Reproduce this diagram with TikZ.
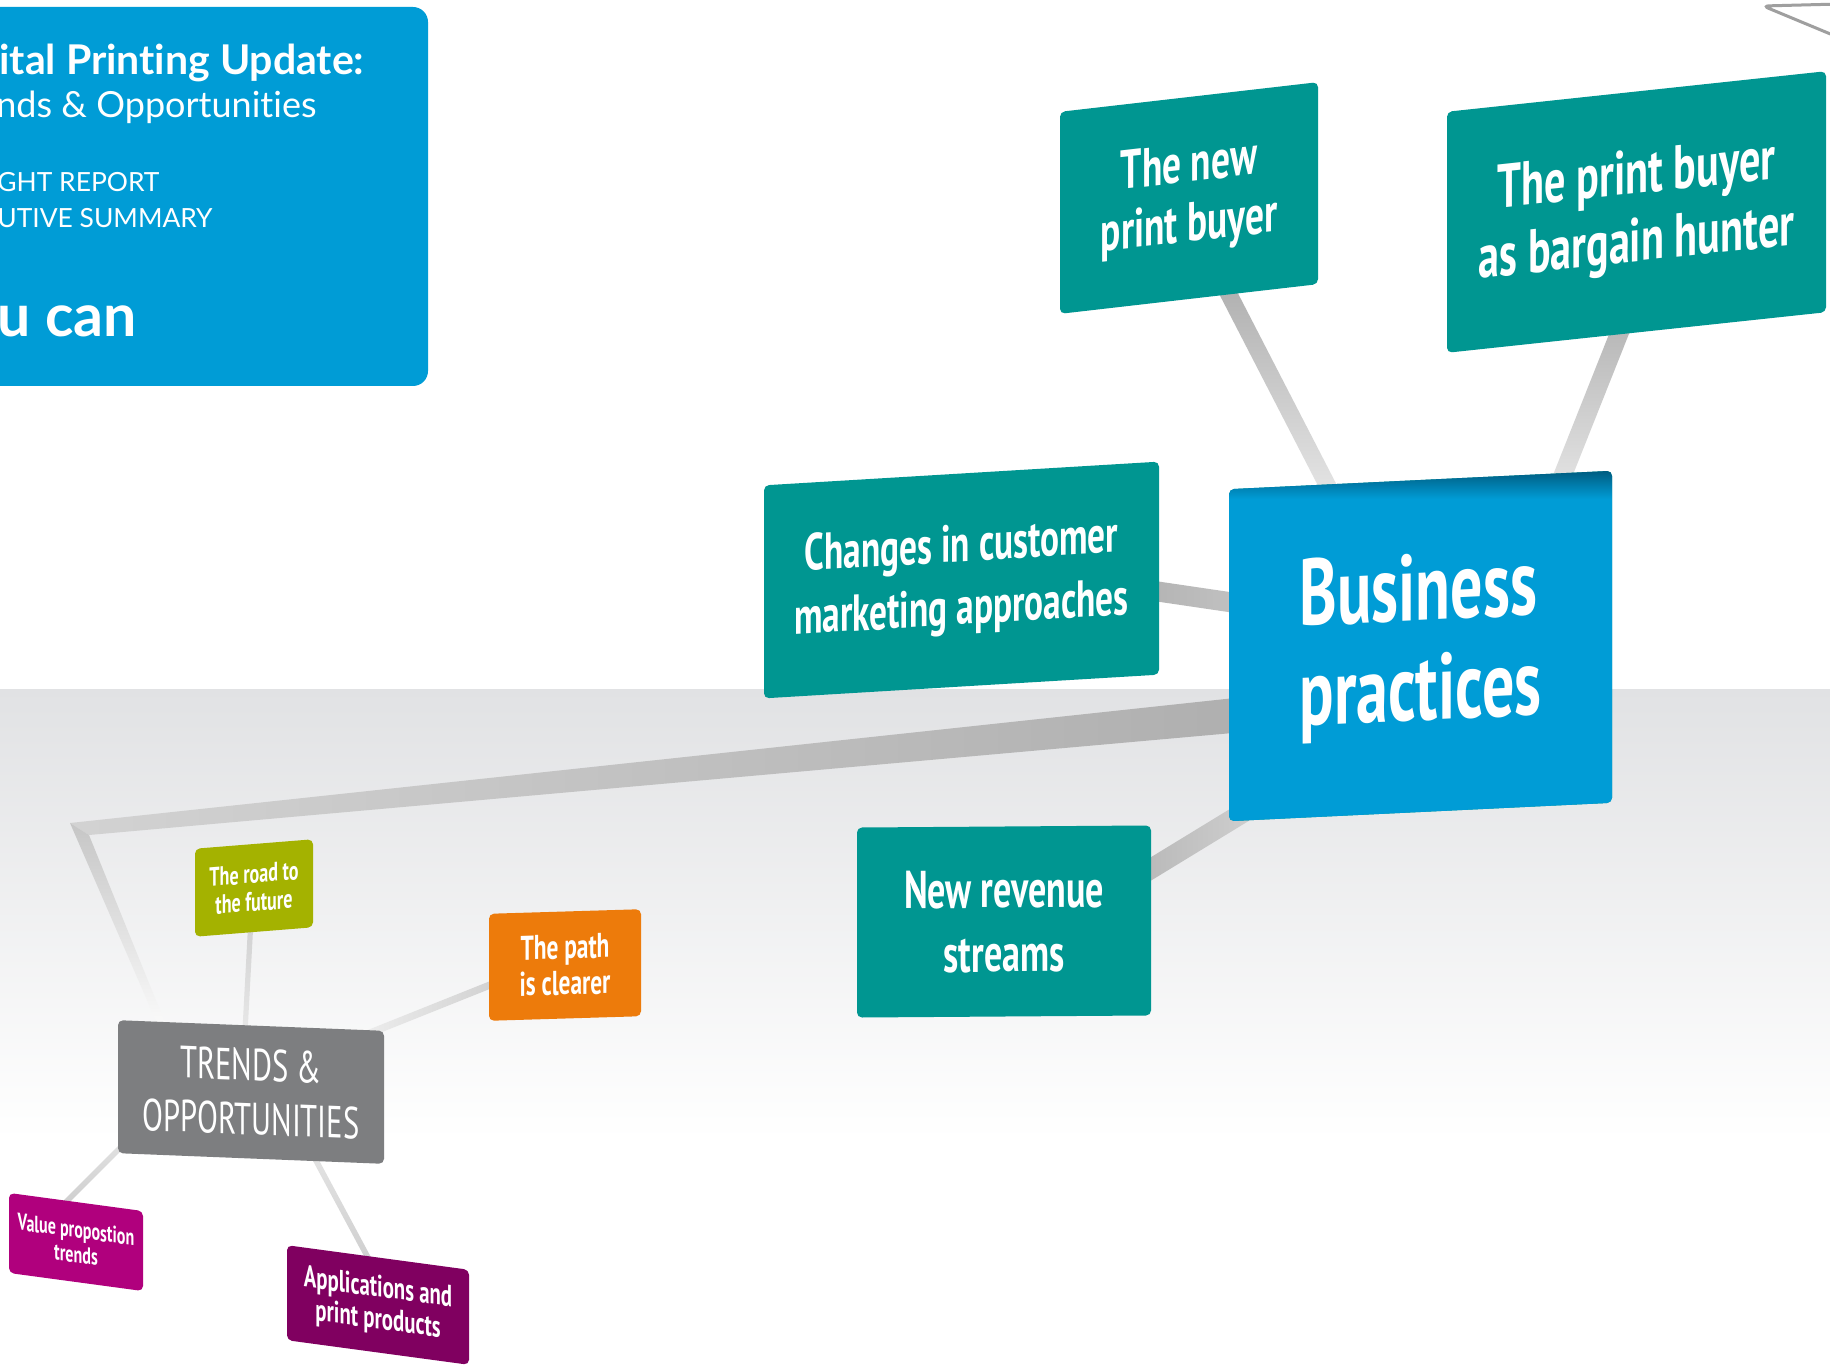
\documentclass[tikz,border=0pt]{standalone}
\usepackage{fontspec}
\newfontfamily\boxfont[FakeStretch=0.68]{PT Sans}
\newfontfamily\headfont[Ligatures=NoCommon]{Lato}
\usetikzlibrary{calc}

\definecolor{cardteal}{RGB}{0,150,145}
\definecolor{bizblue}{RGB}{0,156,214}
\definecolor{bizdark}{RGB}{0,92,128}
\definecolor{olive}{RGB}{164,178,0}
\definecolor{pathorange}{RGB}{237,123,11}
\definecolor{valuemagenta}{RGB}{176,0,125}
\definecolor{appsplum}{RGB}{128,0,96}
\definecolor{trendgray}{RGB}{125,126,128}
\definecolor{floorgray}{RGB}{225,226,228}

\pgfdeclareverticalshading{bizshade}{100bp}{color(0bp)=(bizblue); color(71bp)=(bizblue); color(75bp)=(bizdark); color(100bp)=(bizdark)}

\pgfdeclarelayer{back}
\pgfdeclarelayer{links}
\pgfsetlayers{back,links,main}

\newcommand{\cardfont}[2]{\boxfont\bfseries\fontsize{#1}{#2}\selectfont}
% shaded bar between two points, half widths #4 and #5
\newcommand{\linkbar}[5][]{%
  \shade[#1] ($(#2)!#4!90:(#3)$) -- ($(#2)!#4!-90:(#3)$) -- ($(#3)!#5!90:(#2)$) -- ($(#3)!#5!-90:(#2)$) -- cycle;}

\begin{document}
\begin{tikzpicture}[x=0.5pt, y=-0.5pt,
    card/.style={fill=cardteal, rounded corners=2.5pt, inner sep=0pt, text=white, align=center},
    head/.style={anchor=base west, text=white, inner sep=0pt},
    ]
    \useasboundingbox (0,0) rectangle (1830,1369);
    \clip (0,0) rectangle (1830,1369);

    % floor
    \begin{pgfonlayer}{back}
        \fill[white] (0,0) rectangle (1830,1369);
        \shade[top color=floorgray, bottom color=white] (0,689) rectangle (1830,1140);
    \end{pgfonlayer}

    % title panel
    \fill[bizblue, rounded corners=7.5pt] (-40,7) rectangle (428,386);
    \node[head, font=\headfont\bfseries\fontsize{20.5}{24}\selectfont] (title) at (-1,75) {ital Printing Update:};
    \node[head, font=\headfont\fontsize{18}{22}\selectfont] (subtitle) at (-4,118) {nds \& Opportunities};
    \node[head, font=\headfont\fontsize{13.2}{16}\selectfont] (report) at (-3,192) {GHT REPORT};
    \node[head, font=\headfont\fontsize{13.2}{16}\selectfont] (summary) at (-3,228) {UTIVE SUMMARY};
    \node[head, font=\headfont\bfseries\fontsize{29.5}{34}\selectfont] (youcan) at (-3,337) {u can};

    % corner of next panel
    \draw[gray!75, line width=1.5pt, rounded corners=3pt] (1840,4) -- (1763,6) -- (1840,38);

    % business branch
    \node[card, shade, shading=bizshade, minimum width=191.5pt, minimum height=166pt, yslant=0.048,
        align=left, font=\cardfont{47}{50}] (business) at (1420.5,646) {Business\\practices};
    \node[card, minimum width=129pt, minimum height=101pt, yslant=0.115,
        font=\cardfont{27.5}{30}] (newbuyer) at (1189,198) {The new\\print buyer};
    \node[card, minimum width=189.5pt, minimum height=120.5pt, yslant=0.107,
        font=\cardfont{31}{34}] (bargain) at (1636.5,212) {The print buyer\\as bargain hunter};
    \node[card, minimum width=197.5pt, minimum height=106.5pt, yslant=0.06,
        font=\cardfont{26}{31.5}] (changes) at (961.5,580) {Changes in customer\\marketing approaches};
    \node[card, minimum width=147pt, minimum height=95pt, yslant=0.007,
        font=\cardfont{26.5}{32}] (revenue) at (1004,921.5) {New revenue\\streams};

    % trends branch
    \node[card, fill=trendgray, minimum width=133pt, minimum height=66.5pt, yslant=-0.04,
        font=\boxfont\fontsize{22.5}{27}\selectfont] (trends) at (251,1092) {TRENDS \&\\OPPORTUNITIES};
    \node[card, fill=olive, minimum width=59pt, minimum height=44pt, yslant=0.08,
        font=\cardfont{13.3}{14}] (road) at (254,888) {The road to\\the future};
    \node[card, fill=pathorange, minimum width=76pt, minimum height=53.5pt, yslant=0.03,
        font=\cardfont{17.2}{18}] (path) at (565,965) {The path\\is clearer};
    \node[card, fill=valuemagenta, minimum width=67pt, minimum height=40pt, yslant=-0.135,
        font=\cardfont{11.8}{12.5}] (value) at (76,1242) {Value propostion\\trends};
    \node[card, fill=appsplum, minimum width=91pt, minimum height=47.5pt, yslant=-0.135,
        font=\cardfont{15.3}{16}] (apps) at (378,1305) {Applications and\\print products};

    % connector bars
    \coordinate (bend) at (70,823);
    \coordinate (bendin) at (89,835);
    \begin{pgfonlayer}{links}
        \shade[left color=gray!35, right color=gray!64] (bend) -- ($(business)+(-120.5,45)$)
            -- ($(business)+(-120.5,81)$) -- (bendin) -- cycle;
        \shade[top color=gray!45, bottom color=gray!3] (bend) -- (bendin)
            -- ($(trends)+(-83,-62)$) -- ($(trends)+(-91,-62)$) -- cycle;
        \linkbar[top color=gray!70, bottom color=gray!12]{$(newbuyer)+(16,50)$}{$(business)+(-67.5,-111)$}{4.25pt}{4.25pt}
        \linkbar[top color=gray!65, bottom color=gray!15]{$(bargain)+(0,78)$}{$(business)+(126.5,-131)$}{4.6pt}{4.6pt}
        \linkbar[left color=gray!65, right color=gray!42]{$(changes)+(138.5,3)$}{$(business)+(-130.5,-35)$}{5pt}{5pt}
        \linkbar[left color=gray!62, right color=gray!32]{$(revenue)+(96,-21.5)$}{$(business)+(-130.5,138)$}{5pt}{5pt}
        \linkbar[top color=gray!40, bottom color=gray!15]{$(road)+(-2,12)$}{$(trends)+(-7,-42)$}{1.3pt}{1.3pt}
        \linkbar[right color=gray!40, left color=gray!12]{$(path)+(-45,8)$}{$(trends)+(99,-51)$}{1.8pt}{1.8pt}
        \linkbar[top color=gray!20, bottom color=gray!40]{$(trends)+(-111,36)$}{$(value)+(-19,-31)$}{1.4pt}{1.4pt}
        \linkbar[top color=gray!20, bottom color=gray!40]{$(trends)+(54,48)$}{$(apps)+(2,-25)$}{1.4pt}{1.4pt}
    \end{pgfonlayer}
\end{tikzpicture}
\end{document}
